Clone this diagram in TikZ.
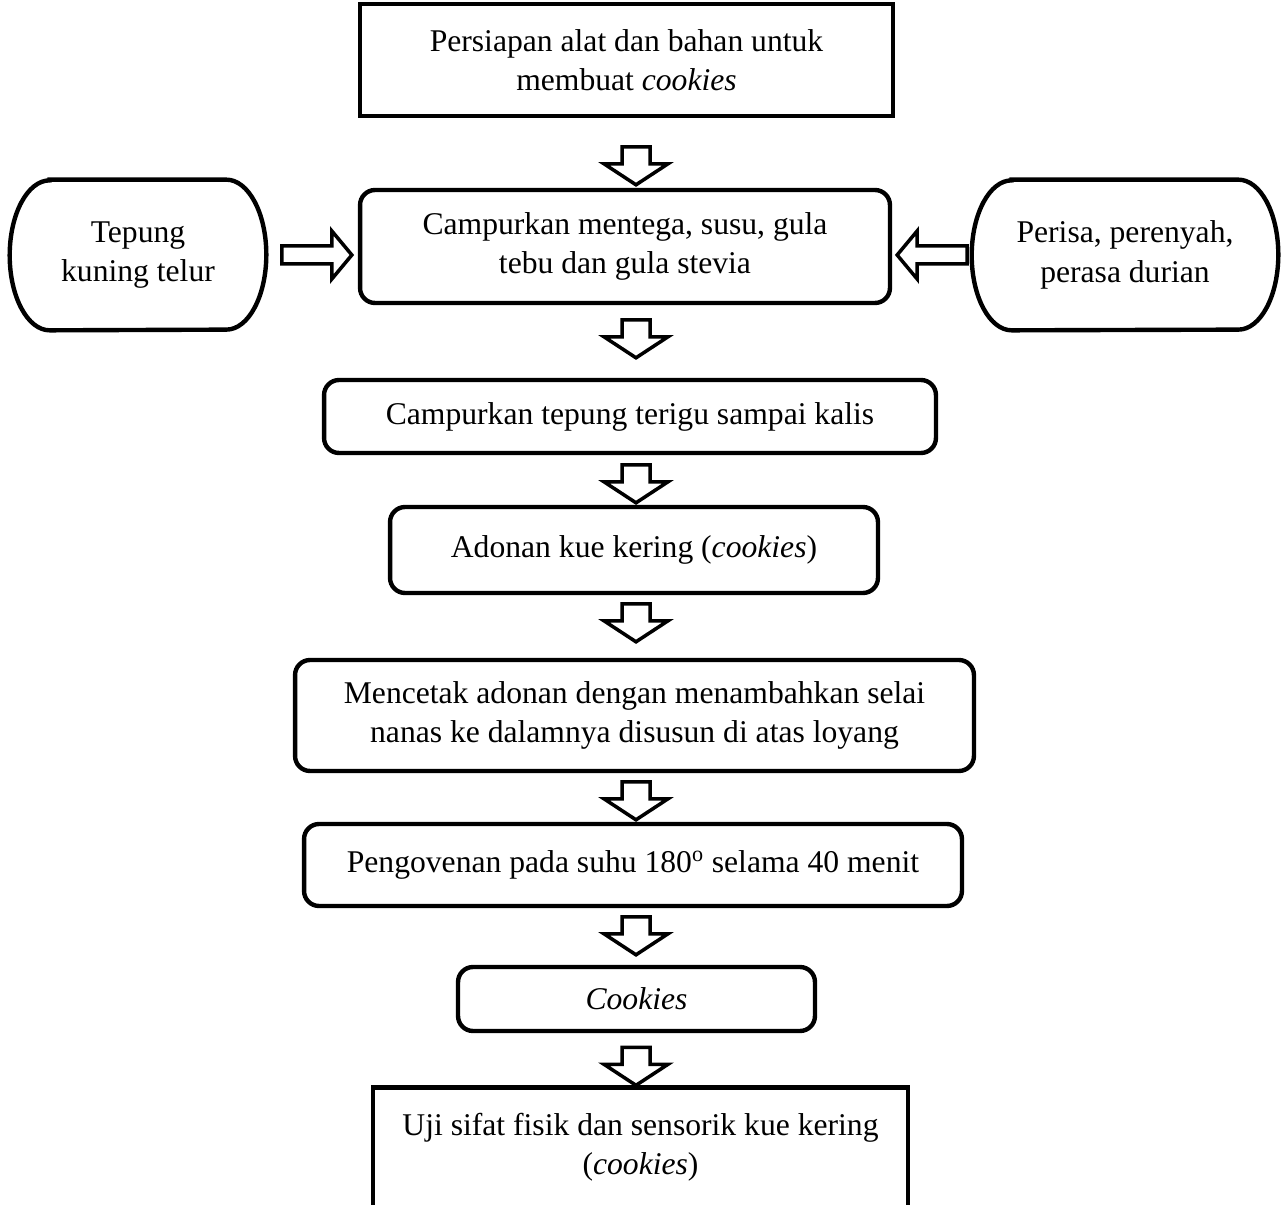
\documentclass[tikz,border=0pt]{standalone}
\usepackage{fontspec}
\setmainfont{Liberation Serif}
\usetikzlibrary{calc}
\tikzset{
  box/.style={draw, line width=2.5pt, align=center, inner sep=0pt,
    font=\fontsize{18}{22.5}\selectfont},
  rbox/.style={box, rounded corners=0.3cm},
  side/.style={align=center, inner sep=0pt, font=\fontsize{18}{22.5}\selectfont},
  hol/.style={draw, line width=2pt, fill=white, line join=miter},
  downarr/.pic={\path[hol] (0,0) -- (32,21) -- (14,21) -- (14,38) -- (-14,38)
    -- (-14,21) -- (-32,21) -- cycle;},
  sidearr/.pic={\path[hol] (0,0) -- (-20,24) -- (-20,9) -- (-70,9) -- (-70,-9)
    -- (-20,-9) -- (-20,-24) -- cycle;}}
\newcommand{\stadium}[1]{\draw[line width=2.5pt]
  ($(#1.north west)+(40,0)$) -- ($(#1.north east)+(-40,0)$)
  arc[start angle=90, end angle=-90, x radius=0.8cm, y radius=1.5cm]
  -- ($(#1.south west)+(40,0)$)
  arc[start angle=270, end angle=90, x radius=0.8cm, y radius=1.5cm] -- cycle;}

\begin{document}
\begin{tikzpicture}[x=0.02cm, y=0.02cm]
  \useasboundingbox (0,0) rectangle (1284,1204);
  \clip (0,0) rectangle (1284,1204);
  \coordinate (axis) at (636,0);
  % main column
  \node[box, minimum width=10.66cm, minimum height=2.24cm] (prep) at (626.5,1144)
    {Persiapan alat dan bahan untuk\\membuat \textit{cookies}};
  \node[rbox, minimum width=10.6cm, minimum height=2.26cm] (campur) at (625,957.5)
    {Campurkan mentega, susu, gula\\tebu dan gula stevia};
  \node[rbox, minimum width=12.24cm, minimum height=1.46cm] (terigu) at (630,787.5)
    {Campurkan tepung terigu sampai kalis};
  \node[rbox, minimum width=9.76cm, minimum height=1.72cm] (adonan) at (634,654)
    {Adonan kue kering (\textit{cookies})};
  \node[rbox, minimum width=13.58cm, minimum height=2.22cm] (cetak) at (634.5,488.5)
    {Mencetak adonan dengan menambahkan selai\\nanas ke dalamnya disusun di atas loyang};
  \node[rbox, minimum width=13.16cm, minimum height=1.64cm] (oven) at (633,339)
    {Pengovenan pada suhu 180\textsuperscript{o} selama 40 menit};
  \node[rbox, minimum width=7.14cm, minimum height=1.28cm] (cookies) at (636.5,205)
    {\textit{Cookies}};
  % last box runs off the page, so only three sides
  \node[box, draw=none, minimum width=10.62cm, minimum height=2.3cm] (uji) at (640.5,57)
    {Uji sifat fisik dan sensorik kue kering\\(\textit{cookies})};
  \draw[line width=2.5pt] (uji.south west) -- (uji.north west) -- (uji.north east)
    -- (uji.south east);
  % side inputs
  \node[side, minimum width=5.12cm, minimum height=3cm] (tepung) at (138,949)
    {Tepung\\kuning telur};
  \node[side, minimum width=6.12cm, minimum height=3cm] (perisa) at (1125,949)
    {Perisa, perenyah,\\perasa durian};
  \stadium{tepung}
  \stadium{perisa}
  % arrows
  \pic at ($(axis |- campur.north)+(0,3)$) {downarr};
  \pic at ($(axis |- terigu.north)+(0,20)$) {downarr};
  \pic at ($(axis |- adonan.north)+(0,2)$) {downarr};
  \pic at ($(axis |- cetak.north)+(0,16)$) {downarr};
  \pic at ($(axis |- oven.north)+(0,2)$) {downarr};
  \pic at ($(axis |- cookies.north)+(0,10)$) {downarr};
  \pic at ($(axis |- uji.north)+(0,2)$) {downarr};
  \pic at ($(campur.west |- tepung.east)+(-6,0)$) {sidearr};
  \pic[rotate=180] at ($(campur.east |- perisa.west)+(5,0)$) {sidearr};
\end{tikzpicture}
\end{document}
